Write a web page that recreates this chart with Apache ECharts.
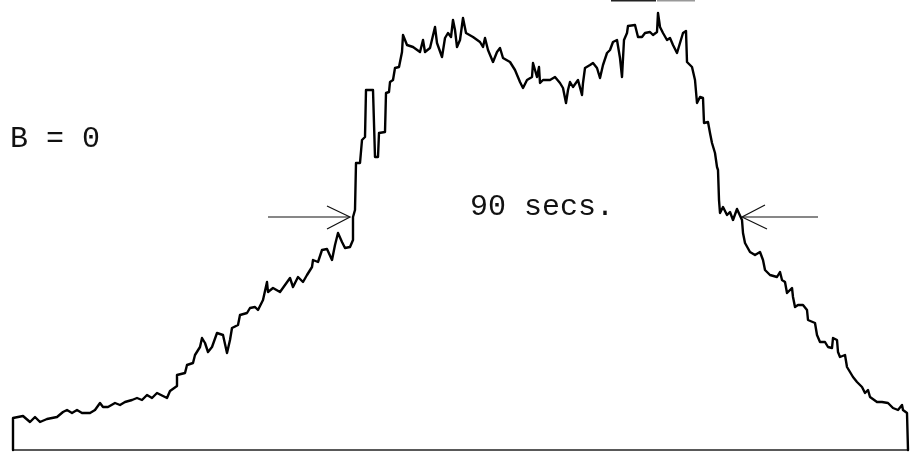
<!DOCTYPE html>
<html>
<head>
<meta charset="utf-8">
<script src="https://cdn.jsdelivr.net/npm/echarts@6/dist/echarts.min.js"></script>
<style>
html,body{margin:0;padding:0;background:#fff;}
#chart{width:910px;height:456px;}
</style>
</head>
<body>
<div id="chart"></div>
<script>
// Scan position (time axis, arbitrary units)
var scanX = [13,13,18,23,30,35,40,47,57,63,67,72,77,82,90,95,100,103,108,115,120,125,132,137,142,147,152,157,163,167,170,177,177,185,187,193,195,200,202,205,208,212,217,223,227,230,232,238,240,247,250,255,258,263,267,268,273,280,285,290,293,298,303,307,312,313,318,322,327,332,335,338,342,345,350,353,353,355,356,360,362,365,366,373,375,378,379,385,386,389,390,393,395,399,402,403,407,413,420,423,425,430,435,437,442,445,448,451,453,455,457,460,463,466,473,480,483,485,488,493,497,500,503,510,515,520,523,527,532,533,537,539,540,543,550,555,560,563,566,568,570,573,578,582,583,585,590,593,597,600,603,607,610,613,617,620,622,624,627,628,635,638,642,645,650,653,657,658,660,663,667,670,673,677,680,683,686,687,692,695,697,700,703,704,708,710,712,715,717,718,719,720,723,727,730,733,737,739,742,743,745,750,755,760,763,765,770,777,780,782,785,787,792,793,795,798,803,807,808,815,817,820,825,828,832,833,837,838,840,845,847,850,853,857,862,865,868,870,877,882,888,893,898,902,903,907,908,908];
// Recorded intensity (arbitrary units)
var intensity = [0,32,33,34,28,33,28,31,33,38,40,37,40,37,37,40,47,43,43,47,45,48,50,52,50,55,52,57,54,52,59,64,75,77,85,87,95,103,112,107,98,103,117,115,97,110,122,125,135,137,142,143,140,150,168,158,162,158,165,172,163,173,168,175,183,190,188,200,201,190,205,217,208,202,203,210,233,240,287,287,310,313,360,360,293,293,317,318,357,358,368,370,382,383,398,415,405,403,398,410,398,402,423,407,393,412,417,413,430,420,403,410,432,417,413,408,403,412,400,388,398,402,392,388,380,368,362,370,373,387,373,383,367,370,370,373,367,362,347,360,368,363,370,355,367,382,385,387,382,372,385,397,400,408,410,392,373,410,417,424,425,413,413,417,418,415,418,437,423,417,410,412,405,397,407,417,419,388,383,370,347,353,352,327,328,317,307,297,283,280,250,237,243,235,238,230,241,240,230,217,207,198,195,198,190,180,175,173,178,170,168,157,162,153,143,145,145,140,130,127,115,108,108,103,102,112,110,98,93,95,83,78,73,68,63,57,60,53,48,48,47,42,40,45,40,37,38,0];
// Base line ends
var baseX = [13, 908];
var baseY = [0, 0];

var labelB = 'B = 0';
var labelT = '90 secs.';

var trace = scanX.map(function(x, i){ return [x, intensity[i]]; });
var base = baseX.map(function(x, i){ return [x, baseY[i]]; });

var chart = echarts.init(document.getElementById('chart'), null, {renderer:'canvas'});
chart.setOption({
  backgroundColor: '#ffffff',
  animation: false,
  grid: {left: 0, right: 0, top: 0, bottom: 0},
  xAxis: {type: 'value', min: 0, max: 910, show: false},
  yAxis: {type: 'value', min: -6, max: 450, show: false},
  series: [
    {type: 'line', data: base, symbol: 'none', silent: true,
     lineStyle: {color: '#222', width: 1.5}},
    {type: 'line', data: trace, symbol: 'none', silent: true,
     lineStyle: {color: '#000', width: 2.4, join: 'round', cap: 'round'}}
  ],
  graphic: [
    {type: 'text', left: 10, top: 124, style: {text: labelB, font: '30px "Liberation Mono"', fill: '#111'}},
    {type: 'text', left: 470, top: 192, style: {text: labelT, font: '30px "Liberation Mono"', fill: '#111'}},
    {type: 'polyline', shape: {points: [[268,217],[349,217]]}, style: {stroke: '#111', lineWidth: 1.2, fill: null}},
    {type: 'polyline', shape: {points: [[327,206],[350,217],[327,229]]}, style: {stroke: '#111', lineWidth: 1.2, fill: null}},
    {type: 'polyline', shape: {points: [[743,217],[818,217]]}, style: {stroke: '#111', lineWidth: 1.2, fill: null}},
    {type: 'polyline', shape: {points: [[765,205],[742,217],[767,229]]}, style: {stroke: '#111', lineWidth: 1.2, fill: null}},
    {type: 'rect', shape: {x: 611, y: 0, width: 45, height: 1.5}, style: {fill: '#222'}},
    {type: 'rect', shape: {x: 657, y: 0, width: 38, height: 1.5}, style: {fill: '#999'}}
  ]
});
</script>
</body>
</html>
